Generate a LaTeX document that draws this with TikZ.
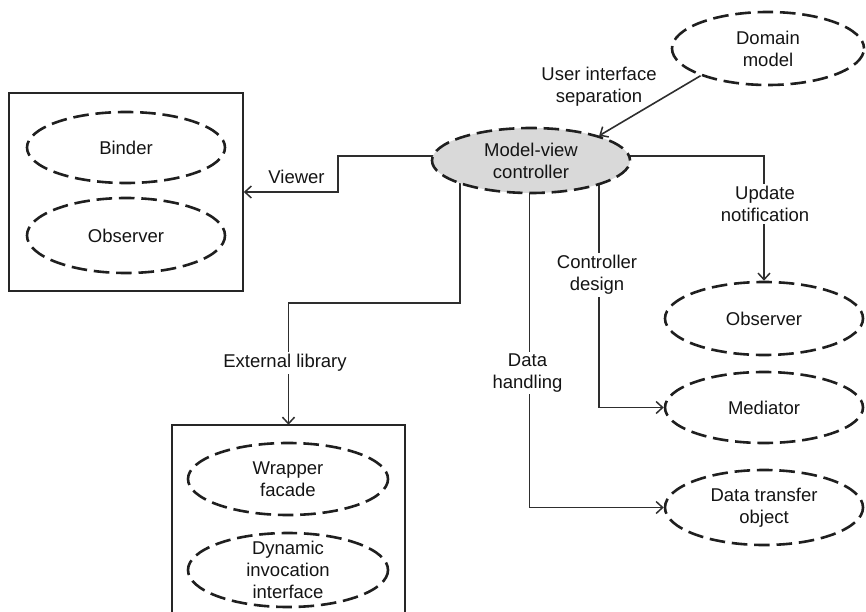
\documentclass[tikz,border=0pt]{standalone}
\usepackage{fontspec}
\setmainfont{Liberation Sans}
\usetikzlibrary{shapes.geometric,arrows.meta,backgrounds}
\begin{document}
\begin{tikzpicture}[x=1pt,y=-1pt,
  every node/.style={font=\fontsize{18.5}{22}\selectfont, text=black!92},
  oval/.style={ellipse, draw=black!88, line width=2.6pt, dash pattern=on 15.6pt off 6.8pt, dash phase=7.8pt, inner sep=0pt, minimum width=198pt},
  txt/.style={align=center},
  conn/.style={draw=black!82, line width=1.6pt},
  arr/.style={conn, -{Straight Barb[length=6.5pt,width=12pt,line width=1.5pt]}},
  lbl/.style={fill=white, align=center, inner sep=2pt},
  boxnode/.style={draw=black!85, line width=1.6pt, inner sep=0pt}]
\path[use as bounding box] (0,0) rectangle (866,612);

% boxes
\node[boxnode, minimum width=234pt, minimum height=198pt] (lbox) at (126,192) {};
\node[inner sep=0pt, minimum width=233pt, minimum height=187pt] (bbox) at (288.5,518.5) {};
\draw[line width=1.6pt, draw=black!85] (bbox.south west) -- (bbox.north west) -- (bbox.north east) -- (bbox.south east);

% ellipses
\node[oval, fill=black!15, minimum height=65pt, label={[txt]center:Model-view\\controller}] (mvc) at (531,160.5) {};
\node[oval, minimum width=192pt, minimum height=73pt, label={[txt]center:Domain\\model}] (dm) at (768,48.5) {};
\node[oval, minimum height=71pt, label={[txt]center:Binder}] (binder) at (126,147.5) {};
\node[oval, minimum height=75pt, label={[txt]center:Observer}] (obs1) at (126,235.5) {};
\node[oval, minimum width=200pt, minimum height=72pt, label={[txt]center:Wrapper\\facade}] (wf) at (288,479) {};
\node[oval, minimum width=200pt, minimum height=74pt, label={[txt]center:Dynamic\\invocation\\interface}] (dii) at (288,570) {};
\node[oval, minimum height=73pt, label={[txt]center:Observer}] (obs2) at (764,318.5) {};
\node[oval, minimum height=71pt, label={[txt]center:Mediator}] (med) at (764,407.5) {};
\node[oval, minimum height=75pt, label={[txt]center:Data transfer\\object}] (dto) at (764,507.5) {};

% connectors
\coordinate (vk) at (338,192);
\coordinate (ek) at (460,303);
\begin{scope}[on background layer]
\draw[arr] ([yshift=4.5pt]mvc.center) -| (vk) -- (vk -| lbox.east);
\draw[arr] ([xshift=-71pt]mvc.center) -- (ek) -| (bbox.north);
\draw[arr] ([xshift=-1.5pt]mvc.center) |- (dto.west);
\draw[arr] ([xshift=68pt]mvc.center) |- (med.west);
\draw[arr] ([yshift=4.5pt]mvc.center) -| (obs2.north);
\end{scope}
\draw[arr] (dm.202) -- (mvc.20);

% connector labels
\node[lbl] (lview) at (296.5,177) {Viewer};
\node[lbl] (lupd) at (765,204) {Update\\notification};
\node[lbl] (lctl) at (597,275) {Controller\\design};
\node[lbl] (ldata) at (527.5,373) {Data\\handling};
\node[lbl] (lext) at (285,363) {External library};
\node[align=center, inner sep=0pt] (lui) at (599,87) {User interface\\separation};
\end{tikzpicture}
\end{document}
